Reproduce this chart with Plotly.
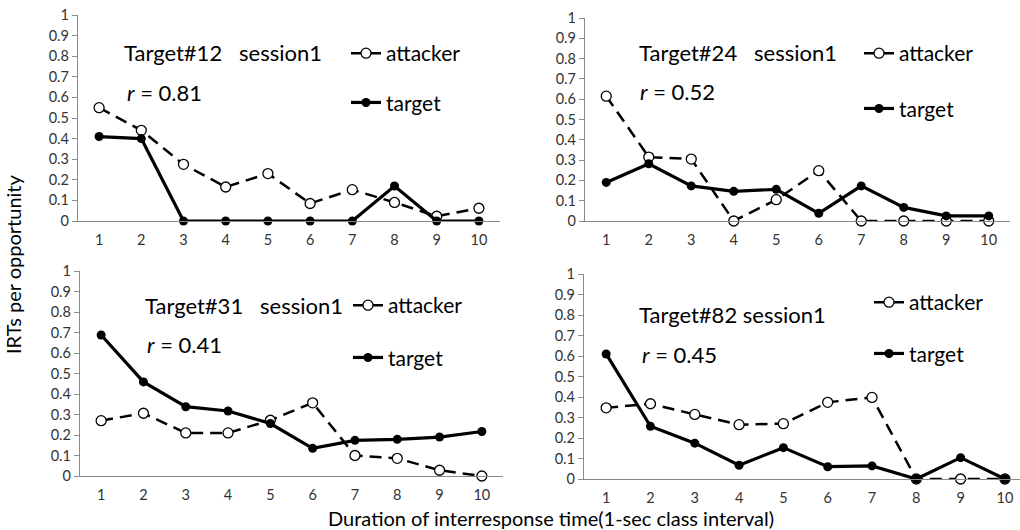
import plotly.graph_objects as go

W, H = 1020, 530
FONT = "Lato"

classes = [1, 2, 3, 4, 5, 6, 7, 8, 9, 10]

# IRTs per opportunity, one pair of series per target
attacker_12 = [0.55, 0.44, 0.275, 0.165, 0.23, 0.085, 0.152, 0.09, 0.023, 0.062]
target_12 = [0.41, 0.40, 0.0, 0.0, 0.0, 0.0, 0.0, 0.17, 0.0, 0.0]

attacker_24 = [0.615, 0.315, 0.305, 0.0, 0.105, 0.248, 0.0, 0.0, 0.0, 0.0]
target_24 = [0.19, 0.282, 0.173, 0.146, 0.156, 0.038, 0.173, 0.067, 0.025, 0.025]

attacker_31 = [0.27, 0.306, 0.21, 0.21, 0.272, 0.357, 0.1, 0.086, 0.028, 0.0]
target_31 = [0.688, 0.459, 0.338, 0.317, 0.256, 0.135, 0.174, 0.179, 0.19, 0.217]

attacker_82 = [0.347, 0.367, 0.315, 0.265, 0.27, 0.374, 0.398, 0.0, 0.0, 0.0]
target_82 = [0.61, 0.257, 0.175, 0.067, 0.153, 0.06, 0.064, 0.0, 0.104, 0.0]

panel_titles = ["Target#12   session1", "Target#24   session1",
                "Target#31   session1", "Target#82 session1"]
r_values = ["0.81", "0.52", "0.41", "0.45"]

y_ticks = [0, 0.1, 0.2, 0.3, 0.4, 0.5, 0.6, 0.7, 0.8, 0.9, 1]
y_tick_text = ["0", "0.1", "0.2", "0.3", "0.4", "0.5", "0.6", "0.7", "0.8", "0.9", "1"]


def px(x):
    return x / W


def py(y):
    return 1 - y / H


# panel geometry in pixels: (x_left, x_right, y_bottom, y_top, x_range_max)
panels = [
    dict(x0=78, x1=500, yb=221, yt=15, xmax=10.5),
    dict(x0=585, x1=1010, yb=221, yt=18, xmax=10.5),
    dict(x0=80, x1=503, yb=476, yt=271, xmax=10.5),
    dict(x0=584, x1=1020, yb=479, yt=274, xmax=10.34),
]

# annotation / legend placement in pixels
title_pos = [(122, 53), (637, 53), (143, 305), (637, 314)]
r_pos = [(125, 93), (638, 92), (145, 344), (640, 354)]
legend_pos = [(346, 53), (859, 53), (348, 305), (869, 302)]
legend_gap = [19, 25, 22, 21]

series = [
    (attacker_12, target_12),
    (attacker_24, target_24),
    (attacker_31, target_31),
    (attacker_82, target_82),
]

fig = go.Figure()
layout = dict(
    width=W, height=H,
    margin=dict(l=0, r=0, t=0, b=0, autoexpand=False),
    paper_bgcolor="white", plot_bgcolor="white",
    font=dict(family=FONT, color="black"),
    showlegend=True,
)

annotations = []
for i, (att, tgt) in enumerate(series):
    n = "" if i == 0 else str(i + 1)
    xa, ya = "x" + n, "y" + n
    lg = "legend" + n
    p = panels[i]

    fig.add_trace(go.Scatter(
        x=classes, y=att, name="attacker", xaxis=xa, yaxis=ya,
        mode="lines+markers", legend=lg, legendgroup="a" + n,
        line=dict(color="black", width=2.5, dash="12px,7px"),
        marker=dict(symbol="circle", size=10, color="white",
                    line=dict(color="black", width=1.3)),
        cliponaxis=False,
    ))
    fig.add_trace(go.Scatter(
        x=classes, y=tgt, name="target", xaxis=xa, yaxis=ya,
        mode="lines+markers", legend=lg, legendgroup="t" + n,
        line=dict(color="black", width=3.2),
        marker=dict(symbol="circle", size=9, color="black"),
        cliponaxis=False,
    ))

    layout["xaxis" + n] = dict(
        domain=[px(p["x0"]), px(p["x1"])], range=[0.5, p["xmax"]],
        anchor=ya, tickmode="array", tickvals=classes,
        ticktext=[str(c) for c in classes],
        showgrid=False, zeroline=False, showline=True, automargin=False,
        linecolor="#8a8a8a", linewidth=1.3, ticks="",
        ticklabelstandoff=5,
        tickfont=dict(family=FONT, size=14.5, color="#333333"),
        fixedrange=True,
    )
    layout["yaxis" + n] = dict(
        domain=[py(p["yb"]), py(p["yt"])], range=[0, 1],
        anchor=xa, tickmode="array", tickvals=y_ticks, ticktext=y_tick_text,
        showgrid=False, zeroline=False, showline=True, automargin=False,
        linecolor="#8a8a8a", linewidth=1.3,
        ticks="outside", ticklen=5, tickcolor="#8a8a8a", tickwidth=1.3,
        tickfont=dict(family=FONT, size=14.5, color="#333333"),
        fixedrange=True,
    )
    lx, ly = legend_pos[i]
    layout[lg] = dict(
        x=px(lx), y=py(ly - 20), xref="paper", yref="paper",
        xanchor="left", yanchor="top",
        bgcolor="rgba(0,0,0,0)", borderwidth=0,
        font=dict(family=FONT, size=21, color="black"),
        tracegroupgap=legend_gap[i], itemwidth=30,
    )

    tx, ty = title_pos[i]
    annotations.append(dict(
        x=px(tx), y=py(ty), xref="paper", yref="paper",
        xanchor="left", yanchor="middle", showarrow=False,
        text=panel_titles[i], font=dict(family=FONT, size=22, color="black"),
    ))
    rx, ry = r_pos[i]
    annotations.append(dict(
        x=px(rx), y=py(ry), xref="paper", yref="paper",
        xanchor="left", yanchor="middle", showarrow=False,
        text="<i>r</i> = " + r_values[i],
        font=dict(family=FONT, size=22, color="black"),
    ))

annotations.append(dict(
    x=px(13), y=py(264), xref="paper", yref="paper",
    xanchor="center", yanchor="middle", showarrow=False, textangle=-90,
    text="IRTs per opportunity", font=dict(family=FONT, size=20, color="black"),
))
annotations.append(dict(
    x=px(551), y=py(518), xref="paper", yref="paper",
    xanchor="center", yanchor="middle", showarrow=False,
    text="Duration of interresponse time(1-sec class interval)",
    font=dict(family=FONT, size=20, color="black"),
))
layout["annotations"] = annotations

fig.update_layout(**layout)
fig.write_html("out.html")
